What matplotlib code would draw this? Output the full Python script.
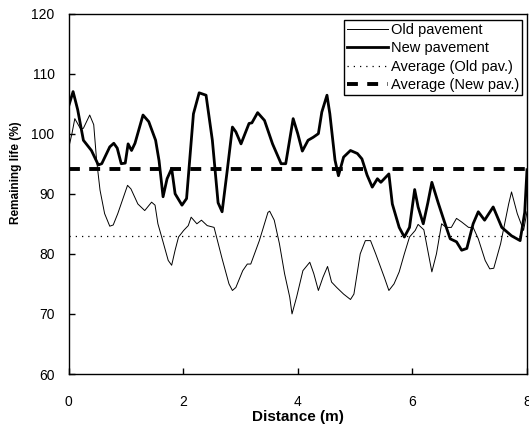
import matplotlib
matplotlib.use("Agg")
import matplotlib.pyplot as plt

new_x = [0.0, 0.08, 0.16, 0.26, 0.40, 0.52, 0.58, 0.72, 0.79, 0.85, 0.92, 0.99, 1.04, 1.10, 1.16,
         1.30, 1.40, 1.52, 1.58, 1.65, 1.72, 1.80, 1.86, 1.98, 2.06, 2.18, 2.28, 2.40, 2.51, 2.61,
         2.68, 2.77, 2.86, 2.92, 3.01, 3.15, 3.20, 3.30, 3.42, 3.56, 3.71, 3.79, 3.92, 4.00, 4.08,
         4.18, 4.27, 4.36, 4.42, 4.51, 4.56, 4.65, 4.71, 4.80, 4.92, 5.04, 5.12, 5.21, 5.30, 5.39,
         5.45, 5.59, 5.65, 5.77, 5.86, 5.95, 6.04, 6.10, 6.19, 6.27, 6.34, 6.45, 6.56, 6.66, 6.77,
         6.86, 6.95, 7.06, 7.15, 7.26, 7.41, 7.56, 7.73, 7.88, 7.96, 8.00]
new_y = [104.5, 107.0, 104.0, 98.9, 97.2, 94.8, 95.0, 97.8, 98.4, 97.6, 95.0, 95.1, 98.3, 97.2, 98.4,
         103.1, 102.0, 98.9, 95.5, 89.5, 92.5, 94.2, 90.0, 88.1, 89.2, 103.3, 106.8, 106.4, 98.9, 88.5,
         87.0, 93.9, 101.1, 100.3, 98.3, 101.7, 101.8, 103.5, 102.2, 98.3, 95.0, 95.0, 102.5, 100.0, 97.1,
         98.9, 99.4, 100.0, 103.6, 106.4, 103.3, 95.6, 93.0, 96.1, 97.2, 96.7, 95.8, 93.1, 91.1, 92.5,
         91.9, 93.3, 88.3, 84.4, 82.8, 84.4, 90.7, 87.8, 85.0, 88.5, 91.9, 88.5, 85.3, 82.5, 82.0,
         80.6, 80.9, 85.0, 87.0, 85.6, 87.8, 84.4, 83.0, 82.2, 86.9, 94.0]

old_x = [0.0, 0.06, 0.11, 0.21, 0.26, 0.37, 0.44, 0.49, 0.55, 0.63, 0.72, 0.78, 0.86, 1.03, 1.09,
         1.21, 1.33, 1.45, 1.51, 1.56, 1.62, 1.74, 1.80, 1.86, 1.92, 2.01, 2.09, 2.14, 2.24, 2.32,
         2.42, 2.54, 2.68, 2.80, 2.86, 2.92, 3.04, 3.12, 3.18, 3.33, 3.48, 3.51, 3.59, 3.68, 3.77,
         3.86, 3.90, 3.98, 4.09, 4.21, 4.28, 4.36, 4.44, 4.52, 4.59, 4.68, 4.80, 4.92, 4.98, 5.09,
         5.18, 5.27, 5.36, 5.51, 5.59, 5.68, 5.77, 5.86, 5.95, 6.05, 6.10, 6.20, 6.34, 6.42, 6.51,
         6.59, 6.68, 6.77, 6.86, 6.98, 7.06, 7.15, 7.27, 7.35, 7.42, 7.54, 7.68, 7.73, 7.83, 7.94, 8.00]
old_y = [97.5, 100.0, 102.5, 100.8, 100.9, 103.1, 101.5, 95.6, 90.6, 86.7, 84.6, 84.8, 86.7, 91.4, 90.8,
         88.3, 87.2, 88.6, 88.1, 85.0, 83.0, 78.9, 78.1, 80.6, 82.8, 83.9, 84.7, 86.1, 85.0, 85.6,
         84.7, 84.4, 79.2, 75.0, 73.9, 74.4, 77.2, 78.3, 78.3, 82.2, 86.9, 87.1, 85.6, 81.7, 76.7,
         72.8, 70.0, 72.8, 77.2, 78.6, 76.7, 73.9, 76.1, 77.9, 75.3, 74.4, 73.3, 72.4, 73.3, 80.0,
         82.2, 82.2, 80.0, 76.1, 73.9, 75.0, 77.0, 80.0, 82.8, 83.9, 84.9, 84.0, 77.0, 80.0, 85.0,
         84.4, 84.4, 85.9, 85.3, 84.4, 84.4, 82.5, 78.9, 77.5, 77.6, 81.7, 88.3, 90.3, 86.7, 83.9, 87.0]

avg_old = 83.0
avg_new = 94.1

x_ticks = [0, 2, 4, 6, 8]
y_ticks = [60, 70, 80, 90, 100, 110, 120]

plt.rcParams['font.family'] = ['Liberation Sans', 'DejaVu Sans']

fig = plt.figure(figsize=(5.29, 4.24), dpi=100)
ax = fig.add_axes([68.5 / 529, 1 - 374 / 424, (527 - 68.5) / 529, (374 - 13.5) / 424])

ax.plot(old_x, old_y, color='black', lw=0.7, label='Old pavement')
ax.plot(new_x, new_y, color='black', lw=2.0, label='New pavement')
ax.plot([0, 8], [avg_old, avg_old], color='black', lw=0.9, linestyle=(0, (1, 4)),
        label='Average (Old pav.)')
ax.plot([0, 8], [avg_new, avg_new], color='black', lw=2.8, linestyle=(0, (2.8, 2.4)),
        label='Average (New pav.)')

ax.set_xlim(0, 8)
ax.set_ylim(60, 120)
ax.set_xticks(x_ticks)
ax.set_yticks(y_ticks)
ax.tick_params(direction='in', length=4, width=1, labelsize=10, colors='black')
ax.tick_params(axis='y', pad=10)
ax.tick_params(axis='x', pad=15)
for s in ax.spines.values():
    s.set_linewidth(1.0)
    s.set_color('black')

ax.set_xlabel('Distance (m)', fontsize=11, fontweight='bold', labelpad=1)
ax.set_ylabel('Remaining life (%)', fontsize=8.5, fontweight='bold')
ax.yaxis.set_label_coords(-0.1025, 0.559)

leg = ax.legend(loc='upper right', bbox_to_anchor=((522 - 68.5) / 458.5, (374 - 20) / 360.5),
                borderaxespad=0, fontsize=10.5, handlelength=2.8, handletextpad=0.2,
                labelspacing=0.3, borderpad=0.2, fancybox=False, framealpha=1,
                edgecolor='black')
leg.get_frame().set_linewidth(1.0)

fig.savefig('out.png', dpi=100)
